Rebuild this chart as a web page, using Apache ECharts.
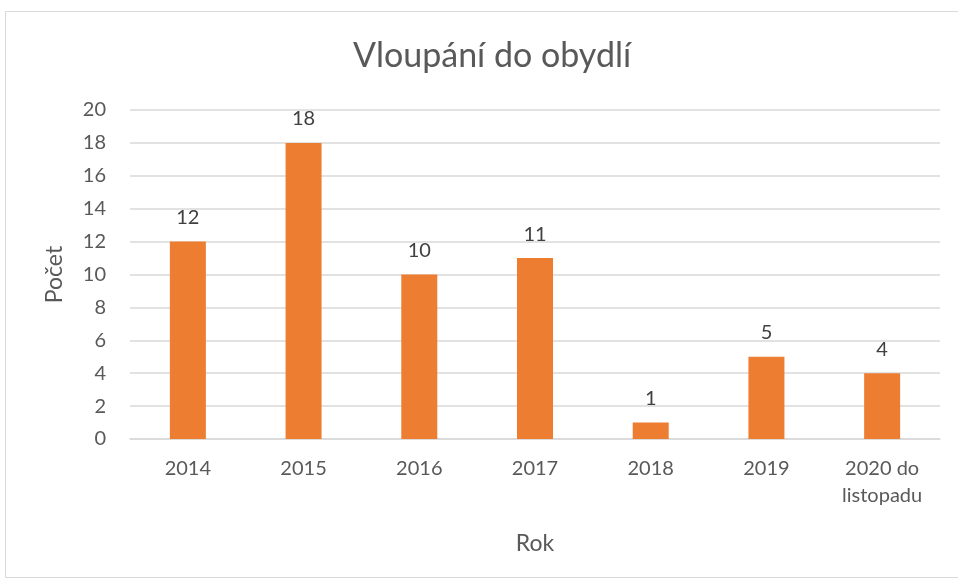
<!DOCTYPE html>
<html><head><meta charset="utf-8">
<script src="https://cdn.jsdelivr.net/npm/echarts@6/dist/echarts.min.js"></script>
<style>html,body{margin:0;padding:0;background:#fff}#c{width:958px;height:581px}</style>
</head><body><div id="c"></div>
<script>
const categories = ['2014','2015','2016','2017','2018','2019','2020 do\nlistopadu'];
const values = [12,18,10,11,1,5,4];
const titleText = 'Vloupání do obydlí';
const yName = 'Počet';
const xName = 'Rok';
const FONT = 'Lato';
const chart = echarts.init(document.getElementById('c'));
chart.setOption({
  animation:false,
  backgroundColor:'#fff',
  graphic:[{type:'rect',shape:{x:5.5,y:11.5,width:960,height:566},style:{fill:'none',stroke:'#d9d9d9',lineWidth:1},silent:true}],
  title:{text:titleText,left:348,top:34,textStyle:{fontFamily:FONT,fontSize:34,fontWeight:'normal',color:'#595959'}},
  grid:{left:130,right:18,top:110,bottom:142,containLabel:false},
  xAxis:{type:'category',data:categories,name:xName,nameLocation:'middle',nameGap:93,
    nameTextStyle:{fontFamily:FONT,fontSize:23,color:'#595959'},
    axisLine:{show:true,lineStyle:{color:'#d9d9d9',width:1.5}},axisTick:{show:false},
    axisLabel:{fontFamily:FONT,fontSize:20,color:'#595959',margin:16,lineHeight:27,interval:0}},
  yAxis:{type:'value',min:0,max:20,interval:2,name:yName,nameLocation:'middle',nameGap:64,
    nameTextStyle:{fontFamily:FONT,fontSize:23,color:'#595959'},
    axisLine:{show:false},axisTick:{show:false},
    axisLabel:{fontFamily:FONT,fontSize:20,color:'#595959',margin:24},
    splitLine:{lineStyle:{color:'#d9d9d9',width:1.5}}},
  series:[{type:'bar',data:values,barWidth:36,itemStyle:{color:'#ED7D31'},
    label:{show:true,position:'top',distance:14,fontFamily:FONT,fontSize:20,color:'#404040'}}]
});
</script></body></html>
